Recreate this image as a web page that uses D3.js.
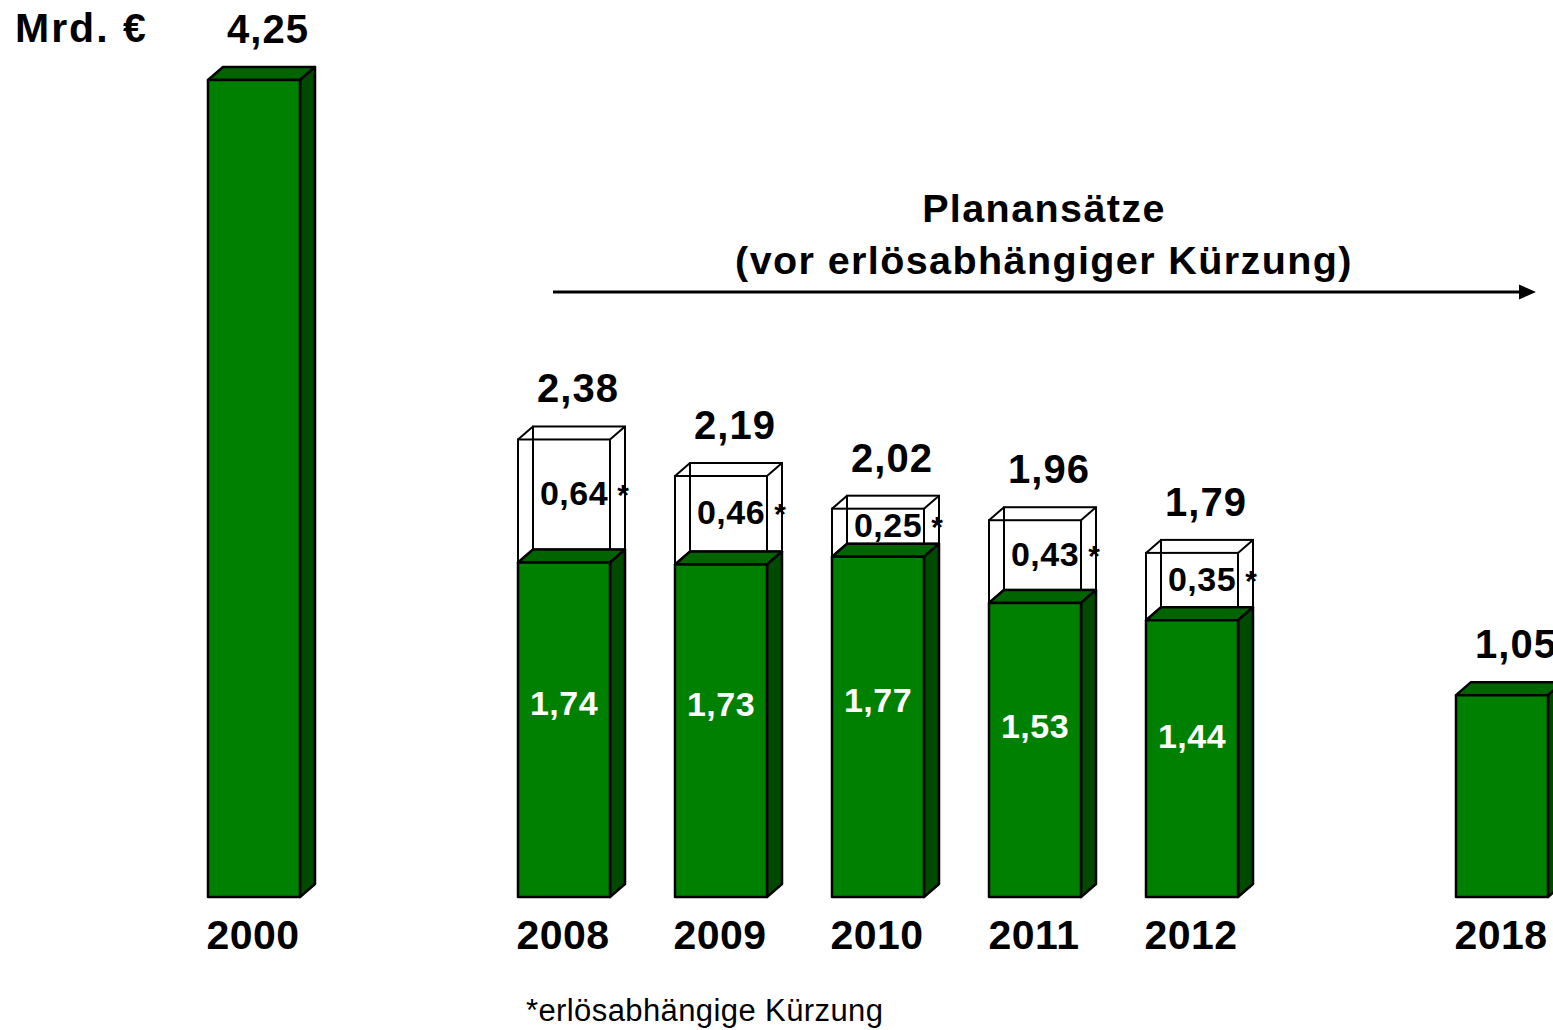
<!DOCTYPE html>
<html>
<head>
<meta charset="utf-8">
<script src="https://cdn.jsdelivr.net/npm/d3@7"></script>
<style>
  body { margin: 0; background: #fff; }
  svg { display: block; font-family: "Liberation Sans", Arial, sans-serif; }
</style>
</head>
<body>
<script>
// chart values
const years = [2000, 2008, 2009, 2010, 2011, 2012, 2018];
const baseValues = [4.25, 1.74, 1.73, 1.77, 1.53, 1.44, 1.05];   // green part
const cutValues = [null, 0.64, 0.46, 0.25, 0.43, 0.35, null];     // erlösabhängige Kürzung
const totalLabels = ["4,25", "2,38", "2,19", "2,02", "1,96", "1,79", "1,05"];
const unitLabel = "Mrd. €";
const planTitle = ["Planansätze", "(vor erlösabhängiger Kürzung)"];
const footnote = "*erlösabhängige Kürzung";

const fmt = v => v.toFixed(2).replace(".", ",");

var width = 1553, height = 1030;
var svg = d3.select("body").append("svg")
    .attr("width", width)
    .attr("height", height);

// broken year axis: gaps 2000 -> 2008 and 2012 -> 2018 shown as two slots
var x = d3.scaleLinear()
    .domain([2000, 2008, 2012, 2018])
    .range([208, 518, 1146, 1456]);
var barW = 92;
var y = d3.scaleLinear().domain([0, 4.25]).range([897, 80]);
var dx = 15, dy = 13;

var bars = years.map((yr, i) => ({
    year: yr,
    base: baseValues[i],
    cut: cutValues[i],
    total: baseValues[i] + (cutValues[i] || 0),
    label: totalLabels[i]
}));

var g = svg.append("g");

// transparent wire boxes for the cut part
var boxes = g.selectAll("g.box").data(bars.filter(d => d.cut != null))
    .enter().append("g").attr("class", "box")
    .attr("fill", "none").attr("stroke", "#000").attr("stroke-width", 2);

boxes.each(function (d) {
    var s = d3.select(this);
    var x0 = x(d.year), x1 = x0 + barW;
    var yt = y(d.total), yb = y(d.base);
    // back face
    s.append("rect").attr("x", x0 + dx).attr("y", yt - dy).attr("width", barW).attr("height", yb - yt);
    // connectors
    [[x0, yt], [x1, yt], [x0, yb], [x1, yb]].forEach(p => {
        s.append("line").attr("x1", p[0]).attr("y1", p[1]).attr("x2", p[0] + dx).attr("y2", p[1] - dy);
    });
    // front face
    s.append("rect").attr("x", x0).attr("y", yt).attr("width", barW).attr("height", yb - yt);
});

// green 3d bars
var bar = g.selectAll("g.bar").data(bars).enter().append("g").attr("class", "bar")
    .attr("stroke", "#000").attr("stroke-width", 2.5).attr("stroke-linejoin", "round");

bar.append("path")
    .attr("fill", "#006400")
    .attr("d", d => {
        var x0 = x(d.year), yt = y(d.base);
        return `M${x0},${yt} L${x0 + dx},${yt - dy} L${x0 + barW + dx},${yt - dy} L${x0 + barW},${yt} Z`;
    });
bar.append("path")
    .attr("fill", "#004a00")
    .attr("d", d => {
        var x1 = x(d.year) + barW, yt = y(d.base), yb = y(0);
        return `M${x1},${yt} L${x1 + dx},${yt - dy} L${x1 + dx},${yb - dy} L${x1},${yb} Z`;
    });
bar.append("rect")
    .attr("fill", "#008000")
    .attr("x", d => x(d.year))
    .attr("y", d => y(d.base))
    .attr("width", barW)
    .attr("height", d => y(0) - y(d.base));

// labels inside green bars (only the stacked ones)
g.selectAll("text.base").data(bars.filter(d => d.cut != null)).enter().append("text")
    .attr("class", "base")
    .attr("x", d => x(d.year) + barW / 2)
    .attr("y", d => y(d.base) + 0.42 * (y(0) - y(d.base)) + 12)
    .attr("text-anchor", "middle")
    .attr("fill", "#fff").attr("font-weight", "bold").attr("font-size", 34)
    .attr("letter-spacing", 0.5)
    .text(d => fmt(d.base));

// labels inside wire boxes
var cutLab = g.selectAll("g.cutlab").data(bars.filter(d => d.cut != null)).enter().append("g")
    .attr("class", "cutlab");
cutLab.append("text")
    .attr("x", d => x(d.year) + barW / 2 + 10)
    .attr("y", d => (y(d.total) + y(d.base)) / 2 - 8 + 12)
    .attr("text-anchor", "middle")
    .attr("font-weight", "bold").attr("font-size", 34)
    .attr("letter-spacing", 0.5)
    .text(d => fmt(d.cut));
cutLab.append("text")
    .attr("x", d => x(d.year) + barW + 13)
    .attr("y", d => (y(d.total) + y(d.base)) / 2 - 8 + 12)
    .attr("text-anchor", "middle")
    .attr("font-weight", "bold").attr("font-size", 30)
    .text("*");

// totals above bars
g.selectAll("text.total").data(bars).enter().append("text")
    .attr("class", "total")
    .attr("x", d => x(d.year) + barW / 2 + 14)
    .attr("y", d => y(d.total) - dy - 24)
    .attr("text-anchor", "middle")
    .attr("font-weight", "bold").attr("font-size", 40)
    .attr("letter-spacing", 1)
    .text(d => d.label);

// year labels
g.selectAll("text.year").data(bars).enter().append("text")
    .attr("class", "year")
    .attr("x", d => x(d.year) + barW / 2 - 1)
    .attr("y", 949)
    .attr("text-anchor", "middle")
    .attr("font-weight", "bold").attr("font-size", 41)
    .attr("letter-spacing", 0.5)
    .text(d => d.year);

// unit
svg.append("text")
    .attr("x", 15).attr("y", 42)
    .attr("font-weight", "bold").attr("font-size", 41)
    .attr("letter-spacing", 2)
    .text(unitLabel);

// plan annotation with arrow
svg.selectAll("text.plan").data(planTitle).enter().append("text")
    .attr("class", "plan")
    .attr("x", 1044)
    .attr("y", (d, i) => 222 + i * 52)
    .attr("text-anchor", "middle")
    .attr("font-weight", "bold").attr("font-size", 39.5)
    .attr("letter-spacing", 1.4)
    .text(d => d);

svg.append("line")
    .attr("x1", 553).attr("y1", 292).attr("x2", 1521).attr("y2", 292)
    .attr("stroke", "#000").attr("stroke-width", 3);
svg.append("path")
    .attr("d", "M1519,284.5 L1536,292 L1519,299.5 Z")
    .attr("fill", "#000");

// footnote
svg.append("text")
    .attr("x", 526).attr("y", 1021)
    .attr("font-size", 31)
    .attr("letter-spacing", 0.4)
    .text(footnote);
</script>
</body>
</html>
